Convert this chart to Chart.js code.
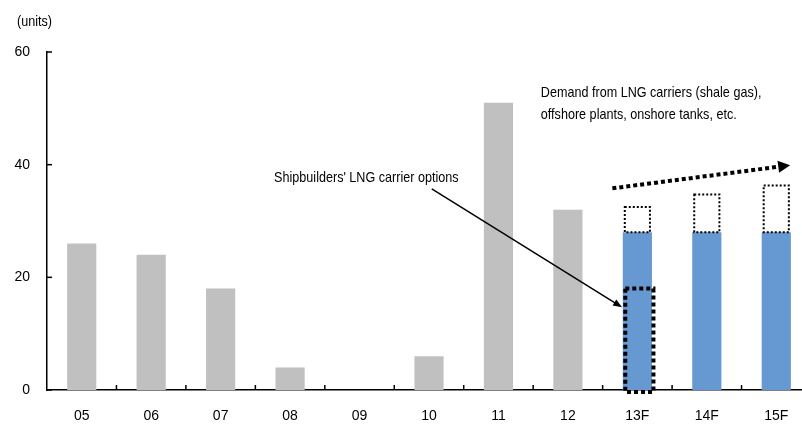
<!DOCTYPE html>
<html>
<head>
<meta charset="utf-8">
<script src="https://cdn.jsdelivr.net/npm/chart.js@4/dist/chart.umd.min.js"></script>
<style>
  html, body { margin: 0; padding: 0; background: #fff; overflow: hidden; }
  #wrap { width: 820px; height: 425px; }
</style>
</head>
<body>
<div id="wrap"><canvas id="c" width="820" height="425"></canvas></div>
<script>
// LNG carrier orders (units), actuals to 2012 and forecasts for 2013-15
const categories = ['05', '06', '07', '08', '09', '10', '11', '12', '13F', '14F', '15F'];
const orders = [26, 24, 18, 4, 0, 6, 51, 32, null, null, null];
const forecast = [null, null, null, null, null, null, null, null, 28, 28, 28];
// additional demand stacked on top of the forecast (dotted outline)
const extraDemand = [null, null, null, null, null, null, null, null, 4.5, 6.7, 8.3];
// shipbuilders' carrier options included in the 13F forecast
const carrierOptions = [null, null, null, null, null, null, null, null, 18, null, null];
const yTicks = [0, 20, 40, 60];

const FONT = '"Liberation Sans", Arial, Helvetica, sans-serif';
const NARROW = 0.84; // horizontal squeeze for the note text

// category-index / value anchors for the annotations
const notes = {
  units: { text: '(units)', px: [17, 22] },
  options: { text: "Shipbuilders' LNG carrier options", at: [2.77, 37.7],
             arrowFrom: [5.04, 35.7], arrowTo: [7.78, 14.7] },
  demand: { lines: ['Demand from LNG carriers (shale gas),', 'offshore plants, onshore tanks, etc.'],
            at: [6.61, 52.8], lineGap: 22,
            arrowFrom: [7.64, 35.8], arrowTo: [10.2, 39.9] }
};

function xAt(xs, i) {
  // fractional category index -> pixel
  const a = xs.getPixelForValue(0), b = xs.getPixelForValue(1);
  return a + (b - a) * i;
}

function narrowText(ctx, text, x, y) {
  ctx.save();
  ctx.translate(x, y);
  ctx.scale(NARROW, 1);
  ctx.fillText(text, 0, 0);
  ctx.restore();
}

const overlay = {
  id: 'overlay',
  afterDatasetsDraw(chart) {
    const ctx = chart.ctx, xs = chart.scales.x, ys = chart.scales.y;
    const area = chart.chartArea;
    ctx.save();

    // inward tick marks on both axes
    ctx.strokeStyle = '#000';
    ctx.lineWidth = 1.5;
    ctx.setLineDash([]);
    yTicks.forEach(v => {
      const y = ys.getPixelForValue(v);
      ctx.beginPath(); ctx.moveTo(area.left, y); ctx.lineTo(area.left + 5, y); ctx.stroke();
    });
    const step = xs.getPixelForValue(1) - xs.getPixelForValue(0);
    for (let i = 0; i < categories.length; i++) {
      const x = xs.getPixelForValue(i) + step / 2;
      ctx.beginPath(); ctx.moveTo(x, area.bottom); ctx.lineTo(x, area.bottom - 5); ctx.stroke();
    }

    // dotted outlines of the extra demand segments
    const meta = chart.getDatasetMeta(2);
    ctx.lineWidth = 2;
    ctx.setLineDash([2, 2]);
    meta.data.forEach((el, i) => {
      if (extraDemand[i] == null) return;
      const w = el.width - 4;
      ctx.strokeRect(el.x - w / 2, el.y, w, el.base - el.y);
    });

    // bold dotted outline of the carrier options
    const blue = chart.getDatasetMeta(1);
    ctx.lineWidth = 4;
    ctx.setLineDash([4, 3]);
    blue.data.forEach((el, i) => {
      if (carrierOptions[i] == null) return;
      const w = el.width - 1;
      const top = ys.getPixelForValue(carrierOptions[i]);
      const bot = ys.getPixelForValue(0) + 2;
      ctx.strokeRect(el.x + 2 - w / 2, top, w, bot - top);
    });

    // dotted trend arrow for demand
    const d = notes.demand;
    let x1 = xAt(xs, d.arrowFrom[0]), y1 = ys.getPixelForValue(d.arrowFrom[1]);
    let x2 = xAt(xs, d.arrowTo[0]), y2 = ys.getPixelForValue(d.arrowTo[1]);
    let ang = Math.atan2(y2 - y1, x2 - x1);
    ctx.lineWidth = 4;
    ctx.setLineDash([4, 3]);
    ctx.beginPath();
    ctx.moveTo(x1, y1);
    ctx.lineTo(x2 - 10 * Math.cos(ang), y2 - 10 * Math.sin(ang));
    ctx.stroke();
    ctx.setLineDash([]);
    ctx.fillStyle = '#000';
    ctx.beginPath();
    ctx.moveTo(x2, y2);
    ctx.lineTo(x2 - 12 * Math.cos(ang) + 6 * Math.sin(ang), y2 - 12 * Math.sin(ang) - 6 * Math.cos(ang));
    ctx.lineTo(x2 - 12 * Math.cos(ang) - 6 * Math.sin(ang), y2 - 12 * Math.sin(ang) + 6 * Math.cos(ang));
    ctx.closePath();
    ctx.fill();

    // solid pointer for carrier options
    const o = notes.options;
    x1 = xAt(xs, o.arrowFrom[0]); y1 = ys.getPixelForValue(o.arrowFrom[1]);
    x2 = xAt(xs, o.arrowTo[0]); y2 = ys.getPixelForValue(o.arrowTo[1]);
    ang = Math.atan2(y2 - y1, x2 - x1);
    ctx.lineWidth = 1.5;
    ctx.beginPath();
    ctx.moveTo(x1, y1);
    ctx.lineTo(x2 - 6 * Math.cos(ang), y2 - 6 * Math.sin(ang));
    ctx.stroke();
    ctx.beginPath();
    ctx.moveTo(x2, y2);
    ctx.lineTo(x2 - 9 * Math.cos(ang) + 3.5 * Math.sin(ang), y2 - 9 * Math.sin(ang) - 3.5 * Math.cos(ang));
    ctx.lineTo(x2 - 9 * Math.cos(ang) - 3.5 * Math.sin(ang), y2 - 9 * Math.sin(ang) + 3.5 * Math.cos(ang));
    ctx.closePath();
    ctx.fill();

    // labels
    ctx.font = '15px ' + FONT;
    ctx.textBaseline = 'middle';
    ctx.textAlign = 'left';
    narrowText(ctx, notes.units.text, notes.units.px[0], notes.units.px[1]);
    narrowText(ctx, o.text, xAt(xs, o.at[0]), ys.getPixelForValue(o.at[1]));
    const dx = xAt(xs, d.at[0]), dy = ys.getPixelForValue(d.at[1]);
    d.lines.forEach((t, k) => narrowText(ctx, t, dx, dy + k * d.lineGap));

    ctx.restore();
  }
};

new Chart(document.getElementById('c'), {
  type: 'bar',
  data: {
    labels: categories,
    datasets: [
      { label: 'Orders', data: orders, backgroundColor: '#C0C0C0' },
      { label: 'Forecast', data: forecast, backgroundColor: '#6699D2' },
      { label: 'Extra demand', data: extraDemand, backgroundColor: 'rgba(0,0,0,0)', borderWidth: 0 }
    ]
  },
  options: {
    responsive: false,
    devicePixelRatio: 1,
    animation: false,
    events: [],
    datasets: { bar: { categoryPercentage: 1, barPercentage: 0.42 } },
    layout: { padding: { top: 52, right: 9, left: 0, bottom: 0 } },
    plugins: { legend: { display: false }, tooltip: { enabled: false }, title: { display: false } },
    scales: {
      x: {
        stacked: true,
        grid: { display: false, drawTicks: false },
        border: { display: true, color: '#000', width: 1.5 },
        ticks: { color: '#000', font: { family: FONT, size: 14 }, padding: 18, maxRotation: 0, autoSkip: false },
        afterFit(s) { s.height = 35; }
      },
      y: {
        stacked: true,
        min: 0, max: 60,
        grid: { display: false, drawTicks: false },
        border: { display: true, color: '#000', width: 1.5 },
        ticks: { color: '#000', font: { family: FONT, size: 14 }, padding: 17 },
        afterBuildTicks(s) { s.ticks = yTicks.map(v => ({ value: v })); },
        afterFit(s) { s.width = 47; }
      }
    }
  },
  plugins: [overlay]
});
</script>
</body>
</html>
